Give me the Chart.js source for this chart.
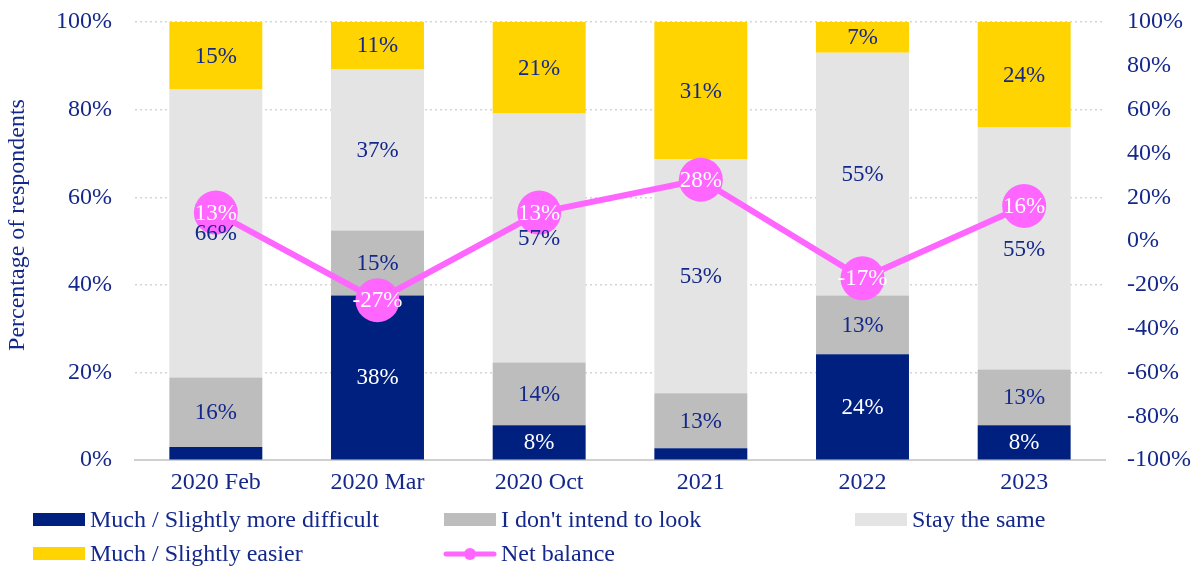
<!DOCTYPE html>
<html><head><meta charset="utf-8">
<script src="https://cdn.jsdelivr.net/npm/chart.js@4/dist/chart.umd.min.js"></script>
<style>html,body{margin:0;padding:0;background:#fff;}#wrap{width:1196px;height:568px;position:relative;}</style>
</head><body><div id="wrap"><canvas id="c" width="1196" height="568"></canvas></div>
<script>
const categories = ['2020 Feb','2020 Mar','2020 Oct','2021','2022','2023'];
const moreDifficult = [3.0, 37.6, 8.0, 2.7, 24.2, 8.0];
const noIntent = [15.9, 14.8, 14.3, 12.6, 13.4, 12.7];
const staySame = [65.8, 36.9, 56.8, 53.4, 55.4, 55.2];
const easier = [15.3, 10.7, 20.9, 31.3, 7.0, 24.1];
const netBalance = [13, -27, 13, 28, -17, 16];
const seriesNames = ['Much / Slightly more difficult', "I don't intend to look", 'Stay the same', 'Much / Slightly easier', 'Net balance'];
const leftTicks = [0,20,40,60,80,100];
const rightTicks = [-100,-80,-60,-40,-20,0,20,40,60,80,100];
const yTitle = 'Percentage of respondents';

const NAVY = '#14288c';
const FONT = '"Liberation Serif","Times New Roman",serif';
const colors = ['#002080', '#bdbdbd', '#e4e4e4', '#ffd400', '#ff66ff'];
const labelColors = ['#ffffff', NAVY, NAVY, NAVY];

const labelPlugin = {
  id: 'labels',
  afterDatasetsDraw(chart) {
    const ctx = chart.ctx;
    ctx.save();
    ctx.font = '23px ' + FONT;
    ctx.textAlign = 'center';
    ctx.textBaseline = 'middle';
    chart.data.datasets.forEach((ds, di) => {
      const meta = chart.getDatasetMeta(di);
      meta.data.forEach((el, i) => {
        const v = ds.data[i];
        if (ds.type === 'line') {
          ctx.fillStyle = '#ffffff';
          ctx.fillText(Math.round(v) + '%', el.x, el.y + 1);
        } else {
          if (v < 5) return;
          const yc = (el.y + el.base) / 2;
          ctx.fillStyle = labelColors[di];
          ctx.fillText(Math.round(v) + '%', el.x, yc + 1);
        }
      });
    });
    ctx.restore();
  }
};

const legendPlugin = {
  id: 'customLegend',
  afterDraw(chart) {
    const ctx = chart.ctx;
    ctx.save();
    ctx.font = '24px ' + FONT;
    ctx.textBaseline = 'middle';
    ctx.textAlign = 'left';
    const cols = [33, 444, 855];
    const rows = [520, 554];
    seriesNames.forEach((name, i) => {
      const x = cols[i % 3], y = rows[Math.floor(i / 3)];
      if (i === 4) {
        ctx.strokeStyle = colors[4]; ctx.lineWidth = 5; ctx.lineCap = 'round';
        ctx.beginPath(); ctx.moveTo(x + 2, y); ctx.lineTo(x + 50, y); ctx.stroke();
        ctx.fillStyle = colors[4];
        ctx.beginPath(); ctx.arc(x + 26, y, 6, 0, Math.PI * 2); ctx.fill();
      } else {
        ctx.fillStyle = colors[i];
        ctx.fillRect(x, y - 7, 52, 13);
      }
      ctx.fillStyle = NAVY;
      ctx.fillText(name, x + 57, y + 1);
    });
    // y-axis title
    ctx.translate(18, 225);
    ctx.rotate(-Math.PI / 2);
    ctx.textAlign = 'center';
    ctx.font = '24px ' + FONT;
    ctx.fillText(yTitle, 0, 0);
    ctx.restore();
  }
};

const barDs = (data, i) => ({
  type: 'bar', label: seriesNames[i], data, backgroundColor: colors[i],
  borderWidth: 0, barPercentage: 0.575, categoryPercentage: 1, yAxisID: 'y', order: 2, stack: 's'
});

const noVPad = s => { s.paddingTop = 0; s.paddingBottom = 0; };

new Chart(document.getElementById('c'), {
  data: {
    labels: categories,
    datasets: [
      barDs(moreDifficult, 0), barDs(noIntent, 1), barDs(staySame, 2), barDs(easier, 3),
      { type: 'line', label: seriesNames[4], data: netBalance, yAxisID: 'y1', order: 0,
        borderColor: colors[4], backgroundColor: colors[4], borderWidth: 6,
        pointRadius: 22, pointHoverRadius: 22, pointBackgroundColor: colors[4], pointBorderWidth: 0, tension: 0 }
    ]
  },
  options: {
    responsive: false, animation: false, devicePixelRatio: 1,
    layout: { padding: { top: 18, bottom: 63, left: 0, right: 0 } },
    plugins: { legend: { display: false }, tooltip: { enabled: false } },
    scales: {
      x: {
        stacked: true,
        grid: { display: false, drawTicks: false },
        border: { color: '#d0d0d0', width: 2 },
        ticks: { color: NAVY, font: { family: FONT, size: 24 }, padding: 8 }
      },
      y: {
        stacked: true, min: 0, max: 100, position: 'left',
        afterBuildTicks: s => { s.ticks = leftTicks.map(v => ({ value: v })); },
        afterFit: s => { s.width = 135; noVPad(s); },
        grid: { color: '#d4d4d4', lineWidth: 1.5, drawTicks: false },
        border: { display: false, dash: [2, 3] },
        ticks: { color: NAVY, font: { family: FONT, size: 24 }, padding: 23, callback: v => v + '%' }
      },
      y1: {
        position: 'right', min: -100, max: 100,
        afterBuildTicks: s => { s.ticks = rightTicks.map(v => ({ value: v })); },
        afterFit: s => { s.width = 91; noVPad(s); },
        grid: { display: false, drawTicks: false },
        border: { display: false },
        ticks: { color: NAVY, font: { family: FONT, size: 24 }, padding: 22, callback: v => v + '%' }
      }
    }
  },
  plugins: [labelPlugin, legendPlugin]
});
</script></body></html>
